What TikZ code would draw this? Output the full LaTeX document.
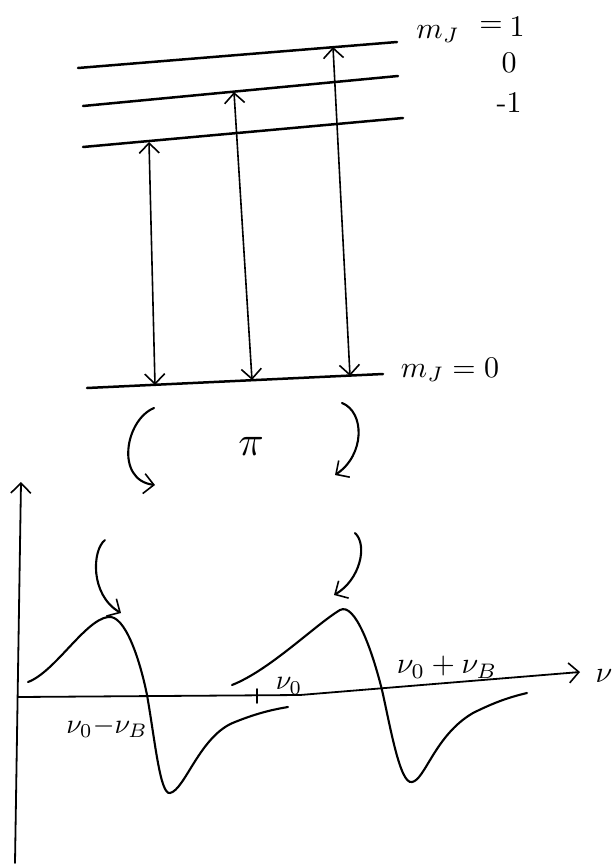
\documentclass[tikz,border=0pt]{standalone}
\usetikzlibrary{arrows.meta}
\begin{document}
\begin{tikzpicture}[x=1pt,y=-1pt,
  level/.style={line width=2.5pt, line cap=round},
  barb/.tip={Straight Barb[length=10pt,width=20pt,line width=1.6pt]},
  trans/.style={line width=1.6pt, {barb}-{barb}},
  curv/.style={line width=2.1pt, line cap=round, -{barb}},
  axis/.style={line width=1.8pt, line cap=round},
  sig/.style={line width=2.1pt, line cap=round},
  big/.style={inner sep=0pt, scale=3},
  mid/.style={inner sep=0pt, scale=2.8}]
\useasboundingbox (0,0) rectangle (615,867);

% energy levels
\coordinate (L1a) at (78,68);  \coordinate (L1b) at (397,42);
\coordinate (L0a) at (83,106); \coordinate (L0b) at (398,76);
\coordinate (Lma) at (83,147); \coordinate (Lmb) at (403,118);
\coordinate (Ga) at (87,388);  \coordinate (Gb) at (383,374);
\draw[level] (L1a) -- (L1b);
\draw[level] (L0a) -- (L0b);
\draw[level] (Lma) -- (Lmb);
\draw[level] (Ga) -- (Gb);

% labels of levels
\node[big] (mJup) at (438,34) {$m_J$};
\node[big] (equp) at (491,27) {$=$};
\node[big] (one) at (517,27) {$1$};
\node[big] (zero) at (509,63) {$0$};
\node[big] (mone) at (509,103) {-1};
\node[big] (mJlow) at (450,370) {$m_J = 0$};

% transitions
\coordinate (Ltop) at (149,142); \coordinate (Lbot) at (155,385);
\coordinate (Mtop) at (234,92);  \coordinate (Mbot) at (252,380);
\coordinate (Rtop) at (333,47);  \coordinate (Rbot) at (350,376);
\draw[trans] (Lbot) -- (Ltop);
\draw[trans] (Mbot) -- (Mtop);
\draw[trans] (Rbot) -- (Rtop);

% pi and curved arrows
\node[inner sep=0pt, scale=4.2] (pi) at (251,446) {$\pi$};
\coordinate (a1s) at (154,408); \coordinate (a1e) at (155,485);
\coordinate (a2s) at (342,403); \coordinate (a2e) at (335,475);
\draw[curv] (a1s) .. controls (125,420) and (115,480) .. (a1e);
\draw[curv] (a2s) .. controls (365,412) and (365,455) .. (a2e);

\coordinate (b1s) at (105,540); \coordinate (b1e) at (121,613);
\coordinate (b2s) at (355,533); \coordinate (b2e) at (334,595);
\draw[curv] (b1s) .. controls (92,550) and (90,595) .. (b1e);
\draw[curv] (b2s) .. controls (368,545) and (360,580) .. (b2e);

% axes
\coordinate (O) at (18,697);
\coordinate (ybot) at (15,863); \coordinate (ytop) at (21,482);
\coordinate (xmid) at (300,695); \coordinate (xend) at (580,672);
\draw[axis, -{barb}] (ybot) -- (ytop);
\draw[axis, -{barb}] (O) -- (xmid) -- (xend);
\coordinate (tick) at (257,697);
\draw[axis] ([yshift=-6]tick) -- ([yshift=8]tick);

% signal
\draw[sig] (28,682) .. controls (55,672) and (85,620) .. (108,617)
  .. controls (125,614) and (140,660) .. (147,695)
  .. controls (155,740) and (160,795) .. (170,793)
  .. controls (185,790) and (200,735) .. (235,722)
  .. controls (255,714) and (270,710) .. (288,707);
\draw[sig] (232,685) .. controls (270,670) and (315,625) .. (340,610)
  .. controls (355,602) and (372,650) .. (382,690)
  .. controls (390,725) and (400,785) .. (412,782)
  .. controls (425,780) and (435,735) .. (473,713)
  .. controls (495,702) and (510,697) .. (527,693);

% axis labels
\node[mid] (lm) at (107,727) {$\nu_0{-}\nu_B$};
\node[mid] (l0) at (289,686) {$\nu_0$};
\node[inner sep=0pt, scale=3] (lp) at (447,667) {$\nu_0+\nu_B$};
\node[big] (nu) at (604,676) {$\nu$};
\end{tikzpicture}
\end{document}
